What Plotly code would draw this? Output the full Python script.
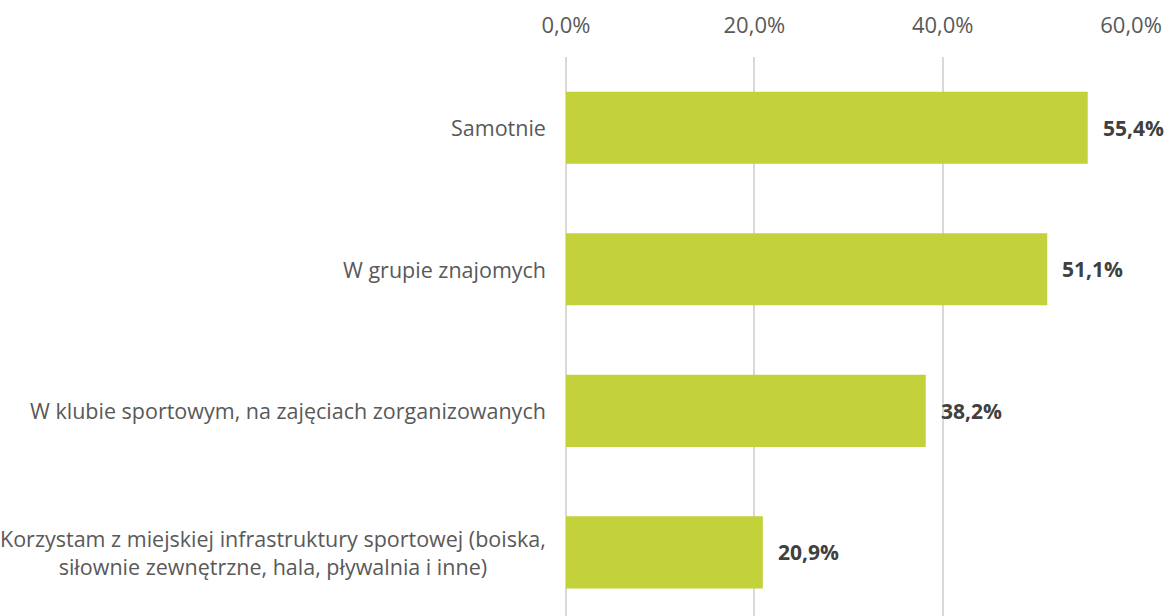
import plotly.graph_objects as go

categories = [
    "Samotnie",
    "W grupie znajomych",
    "W klubie sportowym, na zajęciach zorganizowanych",
    "Korzystam z miejskiej infrastruktury sportowej (boiska,<br>siłownie zewnętrzne, hala, pływalnia i inne)",
]
values = [55.4, 51.1, 38.2, 20.9]
tick_vals = [0, 20, 40, 60]
tick_text = [f"{t:.1f}".replace(".", ",") + "%" for t in tick_vals]

BAR = "#C3D13B"
FONT = "Open Sans"

fig = go.Figure()
fig.add_trace(go.Bar(
    x=values, y=list(range(len(categories))), orientation="h",
    marker=dict(color=BAR, line=dict(width=0)), width=0.51,
    hoverinfo="skip",
))

annotations = []
for i, (c, v) in enumerate(zip(categories, values)):
    annotations.append(dict(
        x=v, y=i, xref="x", yref="y", text="<b>" + f"{v:.1f}".replace(".", ",") + "%</b>",
        showarrow=False, xanchor="left", xshift=13,
        font=dict(family=FONT, size=21, color="#404040"),
    ))
    annotations.append(dict(
        x=0, y=i, xref="paper", yref="y", text=c, showarrow=False,
        xanchor="right", xshift=-18, align="center",
        font=dict(family=FONT, size=21.5, color="#595959"),
    ))

fig.update_layout(
    width=1170, height=616,
    margin=dict(l=566, r=38, t=57, b=0),
    paper_bgcolor="white", plot_bgcolor="white",
    showlegend=False,
    annotations=annotations,
    xaxis=dict(
        side="top", range=[0, 60.1], tickvals=tick_vals, ticktext=tick_text,
        showgrid=True, gridcolor="#D9D9D9", gridwidth=2,
        zeroline=True, zerolinecolor="#D9D9D9", zerolinewidth=2,
        showline=False, ticks="", ticklabelstandoff=19,
        tickfont=dict(family=FONT, size=22, color="#595959"),
    ),
    yaxis=dict(
        range=[3.45, -0.5], showticklabels=False, showgrid=False,
        zeroline=False, showline=False, ticks="",
    ),
)

fig.write_html("out.html")
